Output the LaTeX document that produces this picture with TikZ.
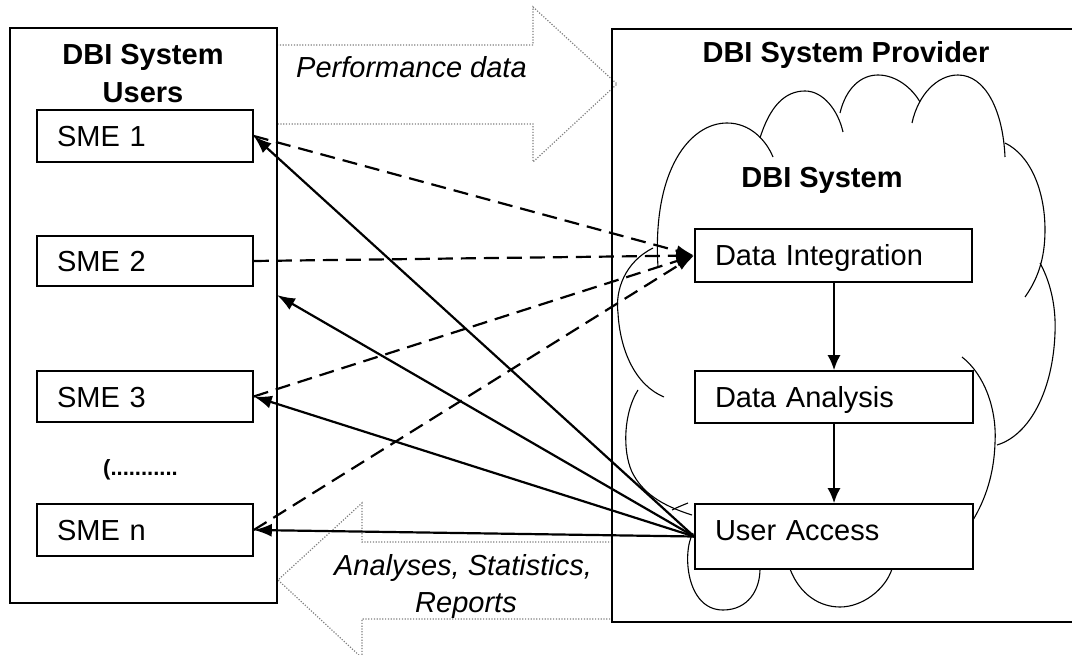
\documentclass[tikz,border=0pt]{standalone}
\usepackage{fontspec}
\setmainfont{Liberation Sans}
\usetikzlibrary{arrows.meta}
\begin{document}
\begin{tikzpicture}[x=1pt,y=-1pt,
  every node/.style={font=\fontsize{29}{35}\selectfont},
  container/.style={draw, line width=1.3pt},
  bigarrow/.style={draw=black!50, line width=1.2pt, dash pattern=on 1.2pt off 1.6pt},
  cloudline/.style={draw, line width=1.1pt},
  itembox/.style={draw, line width=1.6pt, fill=white, inner xsep=20pt, inner ysep=0pt,
     text height=21pt, text depth=0pt, align=left},
  titletext/.style={font=\fontsize{29}{35}\selectfont\bfseries, anchor=base, inner sep=0pt},
  labeltext/.style={font=\fontsize{29}{35}\selectfont\itshape, anchor=base, inner sep=0pt},
  solidarrow/.style={line width=2.2pt, -{Latex[length=18pt,width=13pt]}},
  dasharrow/.style={line width=2.2pt, dash pattern=on 15pt off 8pt, -{Latex[length=18pt,width=11pt]}},
  flowarrow/.style={line width=2pt, -{Latex[length=15pt,width=13pt]}}
]
\useasboundingbox (0,0) rectangle (1072,655);
\clip (0,0) rectangle (1072,655);

% big hollow arrows
\draw[bigarrow] (277,45) -- (533,45) -- (533,7) -- (617,84) -- (533,162) -- (533,124) -- (277,124);
\draw[bigarrow] (612,542) -- (362,542) -- (362,503) -- (278,580) -- (362,658) -- (362,619) -- (612,619);

% containers
\node[container, minimum width=267pt, minimum height=575pt, inner sep=0pt] (users) at (143.5,315.5) {};
\node[container, minimum width=470pt, minimum height=593pt, inner sep=0pt] (provider) at (847,325.5) {};

% cloud
\draw[cloudline] (658,267) .. controls (652,170) and (690,123) .. (727,123) .. controls (750,123) and (766,140) .. (773,157);
\draw[cloudline] (760,138) .. controls (770,106) and (785,91) .. (805,91) .. controls (823,91) and (838,110) .. (843,132);
\draw[cloudline] (840,113) .. controls (846,88) and (861,75) .. (878,75) .. controls (896,75) and (912,88) .. (920,102);
\draw[cloudline] (912,123) .. controls (918,95) and (937,75) .. (958,75) .. controls (985,75) and (1003,110) .. (1005,157);
\draw[cloudline] (1005,143) .. controls (1030,155) and (1045,190) .. (1045,230) .. controls (1045,260) and (1037,280) .. (1025,297);
\draw[cloudline] (1040,263) .. controls (1052,285) and (1056,310) .. (1055,333) .. controls (1053,390) and (1030,435) .. (997,445);
\draw[cloudline] (962,357) .. controls (985,375) and (997,410) .. (995,443) .. controls (994,475) and (985,500) .. (973,520);
\draw[cloudline] (653,248) .. controls (625,262) and (615,290) .. (618,313) .. controls (620,350) and (635,385) .. (664,397);
\draw[cloudline] (638,390) .. controls (624,412) and (622,450) .. (632,472) .. controls (642,492) and (660,505) .. (692,515);
\draw[cloudline] (672,510) .. controls (678,507) and (683,505) .. (688,503);
\draw[cloudline] (693,533) .. controls (682,552) and (686,610) .. (723,610) .. controls (748,610) and (760,590) .. (760,569);
\draw[cloudline] (790,569) .. controls (800,595) and (820,607) .. (840,607) .. controls (862,607) and (885,590) .. (892,569);

% left items
\node[itembox, minimum width=216pt, minimum height=52pt, text width=176pt] (sme1) at (145,136) {SME 1};
\node[itembox, minimum width=216pt, minimum height=50pt, text width=176pt] (sme2) at (145,261) {SME 2};
\node[itembox, minimum width=216pt, minimum height=51pt, text width=176pt] (sme3) at (145,396.5) {SME 3};
\node[itembox, minimum width=216pt, minimum height=52pt, text width=176pt] (smen) at (145,530) {SME n};
\node[font=\fontsize{22}{26}\selectfont\bfseries, anchor=base west, inner sep=0pt] (dots) at (103,475) {(...........};

% right items
\node[itembox, minimum width=277pt, minimum height=53pt, text width=237pt] (di) at (833.5,255.5) {Data Integration};
\node[itembox, minimum width=278pt, minimum height=52pt, text width=238pt] (da) at (834,397) {Data Analysis};
\node[itembox, minimum width=278pt, minimum height=65pt, text width=238pt, text depth=14pt] (ua) at (834,536.5) {User Access};

% titles and labels
\node[titletext] (usertitle1) at (143,65) {DBI System};
\node[titletext] (usertitle2) at (143,103) {Users};
\node[titletext] (provtitle) at (846,63) {DBI System Provider};
\node[titletext] (systitle) at (822,188) {DBI System};
\node[labeltext, anchor=base west] (perf) at (296,78) {Performance data};
\node[labeltext] (anal1) at (463,575) {Analyses, Statistics,};
\node[labeltext] (anal2) at (466,612) {Reports};

% flow arrows
\draw[flowarrow] (di.south -| 834,0) -- (da.north -| 834,0);
\draw[flowarrow] (da.south -| 834,0) -- (ua.north -| 834,0);

% connectors
\coordinate (c2) at (277,295);
\draw[dasharrow] (sme1.east) -- (di.west);
\draw[dasharrow] (sme2.east) -- (di.west);
\draw[dasharrow] (sme3.east) -- (di.west);
\draw[dasharrow] (smen.east) -- (di.west);
\draw[solidarrow] (ua.west) -- (sme1.east);
\draw[solidarrow] (ua.west) -- (c2);
\draw[solidarrow] (ua.west) -- (sme3.east);
\draw[solidarrow] (ua.west) -- (smen.east);
\end{tikzpicture}
\end{document}
